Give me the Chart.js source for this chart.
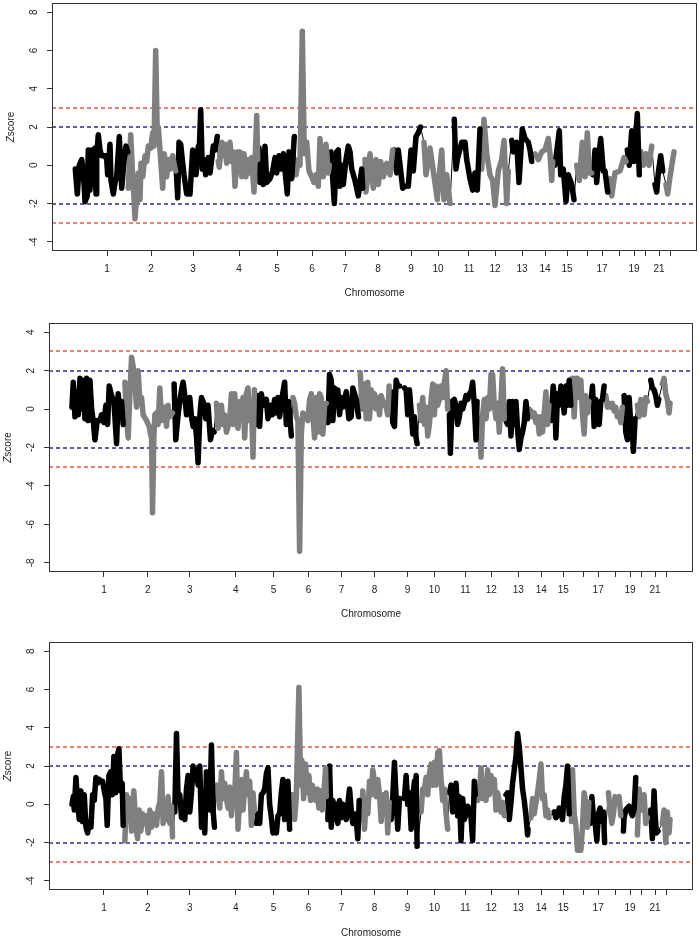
<!DOCTYPE html>
<html>
<head>
<meta charset="utf-8">
<script src="https://cdn.jsdelivr.net/npm/chart.js@4.4.1/dist/chart.umd.min.js"></script>
<style>
  body { margin: 0; background: #fff; }
  canvas { position: absolute; left: 0; }
</style>
</head>
<body>
<canvas id="zChart1" width="700" height="310" style="top:0px"></canvas>
<canvas id="zChart2" width="700" height="320" style="top:310px"></canvas>
<canvas id="zChart3" width="700" height="310" style="top:630px"></canvas>
<script>
// genome laid out as window index 0..600, chromosomes 1..22
var chromStarts = [0, 53, 101, 143, 183, 220, 255, 288, 318, 346, 377, 406, 434, 457, 478, 500, 518, 534, 552, 565, 577, 588, 600];
var chromTicks = [32, 76, 118, 164, 202, 237, 270, 303, 336, 363, 394, 420, 447, 470, 492, 512, 527, 544, 559, 570, 584, 595];
var chromLabels = ["1", "2", "3", "4", "5", "6", "7", "8", "9", "10", "11", "12", "13", "14", "15", "", "17", "", "19", "", "21", ""];
var cutoffs = [3, 2, -2, -3];
var yTicksUp = [-4, -2, 0, 2, 4, 6, 8];
var yTicksDown = [-8, -6, -4, -2, 0, 2, 4];

// [window, z-score]; null = gap in the thick trace
var traceA = [
  [0.3,-0.2],[2.3,-1.5],[4.3,0.0],[6.7,0.3],[8.3,-0.3],[10,-1.9],[12.3,-1.6],[13.3,0.8],[15,-1.3],[16.7,0.8],[18.3,-1.0],[20,0.9],[21,-1.5],[21.7,0.5],[23.3,1.6],[25,0.8],[26.7,0.5],[30,0.5],[31.7,0.3],[32.7,-0.5],[35,1.1],[36,-0.8],[38.3,-1.5],[40,-0.9],[41.7,-0.6],[44.3,1.5],[46.7,-1.2],[49,0.2],[51,1.0],[52.7,0.7],
  [53.3,-1.2],[55.7,1.6],[57.3,-0.2],[58.3,-1.0],[60,-2.8],[61.7,-1.5],[63.3,-0.4],[65,-1.8],[66,0.1],[67.7,-0.6],[70,0.5],[71.7,0.2],[73.3,1.0],[75.7,0.9],[77.7,1.7],[79,1.0],[80.7,6.0],[82.3,1.5],[83.3,2.0],[85,0.8],[87.7,-1.2],[89.3,0.6],[91.7,-0.6],[93.3,0.3],[95,-0.2],[97.7,0.5],[99.3,0.0],[100.7,-0.3],
  [101,0.0],[102.7,-1.7],[104,1.2],[105.7,1.1],[107.3,0.3],[109,-0.5],[111.7,-1.5],[115,-1.5],[117.7,0.8],[119,0.2],[121,-0.5],[123.3,1.0],[124.3,0.8],[125.7,2.9],[127.3,-0.2],[129,0.3],[130.7,-0.5],[133.3,0.4],[135,-0.4],[136.7,0.3],[138.3,1.0],[140,0.8],[142.3,1.5],
  [143.3,0.2],[144.3,-0.1],[146.7,1.2],[148.3,0.5],[150,1.1],[151.7,0.1],[155,1.2],[156.7,0.2],[158.3,0.7],[160,-1.1],[162.3,0.7],[163.3,-0.2],[165,0.7],[166.7,-0.6],[169,0.6],[171,-0.6],[173.3,0.3],[175,-0.4],[176.7,0.4],[179,-1.4],[181.7,2.6],[182.7,0.3],
  [184,0.9],[185,-0.9],[187.3,0.7],[188.3,-1.0],[190,1.0],[191.7,-0.9],[195,-0.7],[197.7,-0.3],[200,0.4],[201.7,-0.4],[204,0.5],[206,-0.2],[208.3,0.6],[212.3,-1.5],[214,0.7],[216.7,-0.7],[219.3,1.5],
  [221,-0.5],[223.3,0.3],[225,0.0],[227.3,7.0],[229.3,0.6],[231.7,1.2],[234,-0.3],[236.7,-0.6],[239,-0.9],[241,-0.5],[243.3,-1.1],[245,1.4],[246.7,0.0],[248.3,-0.6],[251,1.1],[253.3,-0.4],[254.3,0.0],
  [256,0.7],[259.3,-2.0],[261.7,0.7],[263.3,0.8],[265,-1.1],[266.7,0.0],[268.3,-1.0],[271,0.3],[273.3,1.0],[275,0.7],[276.7,-0.2],[280,-0.8],[283.3,-1.6],[286.7,-0.2],[287.7,-1.2],
  [290,0.3],[291,-1.4],[295,0.6],[298.3,-1.2],[301,0.3],[303.3,-1.0],[305.7,0.2],[308.3,-0.6],[311.7,0.1],[315,-0.5],[317.7,0.8],
  [319.3,0.8],[321.7,-0.4],[323.3,0.8],[327.7,-1.2],[330,-1.1],[331.5,null],[333.3,-1.1],[336,0.8],[338.3,-0.3],[341,1.5],[343.3,1.7],[345.5,2.0],
  [349,1.2],[351,-0.5],[355,0.9],[358.3,-0.3],[362.3,-1.8],[364.3,-0.5],[366.7,0.8],[369,-1.8],[371.7,-0.5],[375,-2.0],
  [379.3,2.4],[381,-0.2],[382.3,0.3],[386.7,1.2],[390,1.2],[391.7,0.3],[395,-0.7],[397.7,-1.3],[400,-0.4],[402.3,-1.3],[405,1.9],
  [406.7,-0.2],[409,2.4],[411.7,0.6],[415,-0.5],[417.7,-0.8],[420,-2.1],[423.3,-0.3],[426.7,0.3],[429,1.3],[431.7,-2.0],[433.3,-0.3],
  [436.7,1.3],[438.3,0.7],[441.7,1.2],[444,-0.9],[447.3,1.9],[450,1.4],[453.3,1.2],[455,0.8],[456.7,0.2],
  [460,0.6],[463.3,0.3],[466.7,0.7],[470,0.8],[473.3,1.4],[475,0.6],[476.7,-0.8],[477.7,0.2],
  [480,0.0],[484.3,1.8],[485.7,-0.5],[488.3,-0.2],[491,-1.9],[493.3,-0.5],[496.7,-1.0],[499,-1.8],
  [501.7,0.0],[504.3,-0.8],[507.3,1.2],[510,-0.6],[512.3,1.7],[514.3,-0.4],[516.7,-0.4],
  [518.3,-0.5],[520,0.8],[521.7,-0.9],[523.3,0.2],[525.7,1.4],[528.3,-0.3],[530,-0.3],[532.7,-1.4],
  [535,-0.7],[536.7,-1.6],[540,-0.4],[545,-0.3],[549,0.4],[551,0.2],
  [552.3,0.8],[554.3,0.0],[556.7,1.8],[559,0.2],[562.3,2.7],[564.3,-0.5],
  [566,0.7],[568.3,0.0],[571,0.6],[574,0.0],[576.7,1.0],
  [580,-1.0],[581.7,-1.4],[583.3,-0.4],[585.7,0.5],[587.7,-0.3],
  [591,-1.0],[592.7,-1.5],[595,-0.6],[599,0.7]
];

var traceB = [
  [0,0.1],[1.3,1.4],[3,-0.4],[4.7,0.9],[6.3,-0.3],[8,1.6],[9.7,0.0],[11.3,1.5],[13,-0.5],[14.7,1.6],[16.3,-0.6],[18,1.5],[19.7,0.0],[21.3,-0.6],[23,-1.6],[25.3,-0.6],[28,-0.6],[29.7,-0.3],[32,-0.7],[34,0.2],[35.7,-0.8],[37.3,1.2],[39.7,0.7],[42,0.4],[44.7,-1.8],[46.3,0.8],[48,-0.3],[49.7,0.4],[51.3,-0.8],
  [53,1.4],[54.7,-0.5],[56.3,-1.5],[58,0.8],[59.7,2.7],[61.3,2.2],[63,1.3],[64.7,0.1],[66.3,2.0],[68,0.3],[69.7,0.6],[71.3,-0.3],[74.7,-0.6],[77.3,-0.9],[78.7,-1.3],[79.7,-1.5],[80.7,-5.4],[82,-1.5],[83,-0.3],[84.7,-0.2],[86.3,-0.8],[88,1.1],[89.7,-0.6],[91.3,-0.4],[93,0.1],[94.7,-0.9],[96.3,0.2],[98,-0.4],[100.7,-0.2],
  [102.3,1.3],[104,-1.6],[106.3,-0.3],[108,0.4],[109.7,1.0],[111.3,1.4],[113,0.7],[114.7,-0.3],[116.3,-0.1],[118,0.6],[119.7,-0.4],[121.3,-0.9],[123,-0.5],[124.7,-1.4],[126.3,-2.8],[128,-0.4],[129.7,0.6],[132,0.3],[134,-0.5],[136.3,0.2],[138.7,-1.6],[140.7,-1.1],[142.3,-1.2],
  [144.7,0.3],[146.3,-1.0],[148,-0.5],[149.7,0.2],[151.3,-0.8],[153,-0.3],[154.7,-1.2],[158,-0.6],[159.7,0.8],[161.3,-0.8],[163,0.8],[164.7,-0.7],[166.3,-1.0],[168,0.4],[169.7,-0.2],[171.3,0.6],[173,-1.5],[174.7,0.8],[176.3,1.1],[178,-0.6],[179.7,0.4],[181.3,-2.5],[182.7,1.0],
  [184.7,-0.8],[186.3,0.7],[188,-0.9],[189.7,0.8],[191.3,0.2],[194.7,0.5],[196.3,-0.5],[198.7,0.2],[200.7,-0.3],[203,0.5],[204.7,-0.2],[206.3,0.6],[208,-0.4],[210.7,0.7],[213,1.4],[214.7,-0.8],[217,0.4],[219.7,-1.4],
  [221.3,0.6],[223,0.3],[224.7,-0.4],[226.3,-0.6],[228,-7.4],[229.7,-1.3],[231.3,-0.2],[233,-0.4],[234.7,-0.3],[236.3,-0.6],[238,0.5],[239.7,0.8],[241.3,-0.4],[243,-1.5],[244.7,0.6],[246.3,-1.2],[248,0.8],[249.7,0.6],[251.3,-1.3],[253,0.2],[254.7,0.3],
  [256.3,-0.7],[258,1.8],[259.7,1.5],[261.3,-0.6],[263,1.1],[264.7,0.2],[266.3,1.0],[268,-0.3],[269.7,0.6],[271.3,0.1],[274.7,0.9],[277.3,-0.5],[279.7,-0.4],[281.3,1.1],[284.7,0.5],[287,-0.4],
  [288.7,1.9],[290.7,0.0],[293,1.3],[294.7,-0.5],[296.3,1.4],[298,-0.5],[299.7,1.0],[301.3,0.1],[303,0.8],[304.7,0.0],[306.3,0.6],[308,-0.3],[309.7,0.7],[311.3,0.4],[313,0.2],[314.7,0.1],[316.3,-0.3],[317.7,1.2],
  [319.7,0.9],[321.3,-0.7],[323,-0.9],[324.7,1.5],[326.3,1.2],[328,1.2],[330.5,null],[333,1.1],[334.7,1.0],[336.3,-0.3],[338,1.0],[339.7,-0.1],[341.3,-1.3],[343,-0.4],[344.7,-1.5],[345.7,-1.8],
  [348,0.2],[349.7,-0.6],[351.3,0.6],[353,-0.8],[354.7,0.1],[356.3,-1.4],[358,-0.8],[359.7,0.5],[361.3,1.3],[363,-0.3],[364.7,1.2],[366.3,0.2],[368,0.5],[369.7,1.2],[371.3,0.6],[373,1.4],[374.7,2.0],[376.3,0.0],
  [378,-0.3],[379,-2.3],[380.7,0.4],[383,0.5],[384.7,0.1],[386.3,-0.8],[388,-0.4],[389.7,0.3],[391.3,0.0],[393,0.3],[394.7,0.7],[396.3,0.5],[398,0.8],[399.7,0.9],[401.3,1.4],[403,0.2],[404.7,-1.6],[405.7,0.4],
  [408,-0.6],[409.7,-2.5],[411.3,-0.3],[413,0.5],[414.7,-0.5],[416.3,0.6],[418,0.0],[419.7,1.8],[421.3,1.8],[423,0.2],[424.7,-0.5],[426.3,0.3],[428,-1.2],[429.7,0.5],[431.3,2.1],[433,-0.5],
  [434.7,-0.6],[436.3,-0.8],[438,0.4],[439.7,-1.4],[441.3,0.4],[443,-0.8],[444.7,0.4],[446.3,-1.1],[448,-2.1],[449.7,-1.5],[451.3,-1.2],[453,-0.7],[454.7,0.4],[456.3,-0.5],
  [458,0.0],[459.7,-0.1],[461.3,-0.4],[463,-0.2],[464.7,-0.7],[466.3,-0.4],[468,-1.3],[469.7,-0.4],[471.3,-1.2],[473,-0.2],[474.7,0.9],[476.3,-0.8],[477.7,0.2],
  [479.7,-0.6],[482,1.2],[483.7,0.3],[484.7,-1.5],[486.3,0.8],[488,0.2],[489.7,1.2],[491.3,0.8],[493,-0.2],[494.7,1.2],[496.3,0.2],[498,1.5],[499.7,0.2],
  [501.3,1.6],[503,-0.4],[504.7,1.6],[506.3,1.6],[508,0.6],[509.7,1.5],[511.3,-0.3],[513,-1.3],[514.7,0.7],[516.3,-0.2],[517.7,0.4],
  [519.7,0.3],[521.3,1.2],[523,-0.9],[524.7,0.5],[526.3,-0.3],[528,-0.8],[529.7,0.4],[531.3,0.5],[533,1.2],
  [534.7,0.7],[536.3,0.1],[538,0.3],[539.7,0.1],[541.3,0.3],[543,-0.1],[544.7,0.1],[546.3,-0.4],[548,-0.2],[549.7,-0.7],[551.3,0.1],
  [553,0.7],[554.7,-1.2],[556.3,-1.6],[558,0.6],[559.7,-0.8],[561.3,-1.2],[562.3,-2.2],[564,-0.5],
  [566.3,0.2],[568,-0.4],[569.7,0.5],[571.3,0.4],[573,-0.3],[574.7,0.6],[576.3,0.4],
  [579.7,1.5],[581.3,1.1],[583,1.0],[584.7,0.7],[586.3,0.2],[587.7,0.5],
  [591.3,1.3],[593,1.6],[594.7,0.8],[596.3,0.5],[598,-0.2],[599,0.3]
];

var traceC = [
  [0,0.0],[1.3,0.4],[2.3,-0.3],[4,1.4],[5.7,0.0],[7.3,-0.8],[9,0.7],[10.7,-0.9],[12.3,0.5],[14,-1.2],[15.7,-1.5],[17.3,-0.9],[19,-1.2],[20.7,0.5],[22.3,0.2],[24,1.4],[25.7,1.1],[27.3,1.3],[29,1.2],[30.7,1.2],[32.3,0.7],[34,0.3],[35.3,-1.1],[37,1.5],[38.7,1.7],[40.3,0.5],[42,2.5],[43.7,0.6],[45.3,2.5],[47,2.9],[48.7,0.7],[50.3,1.1],[51.3,-1.1],
  [53,-1.9],[54.7,0.5],[56.3,-0.5],[58,0.3],[59.7,-1.4],[62,0.7],[63.7,-1.0],[65.7,-1.8],[67.3,-0.3],[69,-1.4],[70.7,-0.5],[72.3,-1.0],[74,-0.6],[76.3,-1.5],[78,-0.3],[79.7,-1.2],[81.3,-0.5],[83,-0.8],[84.7,-1.1],[86.3,-0.2],[88,0.1],[89.7,1.7],[91.3,-1.0],[93,-0.3],[94.7,-0.8],[96.3,0.4],[98,-1.0],[99.7,-0.1],[100.7,-1.7],
  [103,-0.4],[104.7,3.7],[106.3,0.3],[108,0.5],[109.7,-0.7],[111.3,-0.4],[113,-0.8],[114.7,0.8],[116.3,1.5],[118,-0.4],[119.7,0.6],[121.3,2.0],[123,1.5],[124.7,1.8],[126.3,1.0],[128,2.0],[129.7,-1.2],[131.3,-0.2],[133,-1.5],[134.7,1.7],[136.3,0.5],[138,-0.3],[139.7,3.1],[141.3,-0.3],[142.7,-1.2],
  [144.7,1.0],[146.3,0.5],[148,-0.2],[149.7,1.7],[151.3,0.3],[153,1.1],[154.7,0.3],[156.3,-0.2],[158,0.9],[159.7,-0.6],[161.3,0.6],[163,0.5],[164.7,2.7],[166.3,-1.3],[168,0.3],[169.7,1.3],[171.3,-0.3],[173,0.8],[174.7,1.7],[176.3,0.5],[178,1.2],[179.7,-1.1],[181.3,0.6],[182.7,-0.3],
  [184.7,-1.0],[186.3,-0.5],[188,-1.0],[189.7,0.5],[191.3,0.6],[193,0.8],[194.7,1.6],[196.3,1.9],[198,0.0],[199.7,-0.7],[201.3,-1.5],[203,-1.2],[204.7,-1.5],[206.3,-0.6],[208,-0.5],[209.7,0.6],[211.3,1.3],[213,-0.8],[214.7,0.3],[216.3,1.2],[218,-1.3],
  [220.3,0.5],[221.3,0.0],[223,-0.8],[224.7,0.4],[227.3,6.1],[229,1.0],[230.3,2.3],[232,0.3],[234,2.1],[235.7,0.6],[237.3,1.5],[239,0.2],[240.7,1.0],[242.3,0.4],[244,0.2],[245.7,0.8],[247.3,-0.2],[249,0.7],[250.7,-0.3],[252.3,0.5],[254,1.9],[254.7,0.4],
  [256.3,-0.8],[258,2.0],[259.7,-1.2],[261.3,0.2],[263,-0.8],[264.7,0.0],[266.3,-1.0],[268,0.2],[269.7,-0.7],[271.3,0.0],[274.7,-0.8],[277.3,0.5],[278,0.8],[280,-0.5],[281.3,-1.0],[283,-0.5],[284.7,-0.8],[286.3,-1.8],[287.7,0.2],
  [289.7,-0.8],[291.3,0.7],[293,-1.3],[294.7,0.3],[296.3,-0.5],[298,1.2],[299.7,0.5],[301.3,1.8],[303,1.2],[304.7,0.4],[306.3,1.3],[308,0.5],[309.7,-0.9],[311.3,0.5],[313,-0.2],[314.7,0.6],[316.3,-1.5],[317.7,0.1],
  [319.7,-0.8],[321.3,0.4],[323,2.2],[324.7,0.3],[326.3,-1.3],[328,0.3],[330.5,null],[333,0.3],[334.7,1.5],[336.3,0.0],[338,0.6],[339.7,-1.3],[341.3,0.3],[343,1.2],[344,0.9],[344.7,1.5],[345.7,-2.2],
  [349.7,-0.4],[351.3,0.8],[353,0.8],[354.7,1.4],[356.3,0.5],[358,1.6],[359.7,2.1],[361.3,1.0],[363,2.2],[364.7,1.0],[366.3,2.7],[368,2.8],[369.7,1.3],[371.3,0.2],[373,0.8],[374.7,-0.5],[376.3,-1.3],
  [378,0.6],[379.7,1.0],[381.3,-0.4],[383,0.2],[384.7,1.1],[386.3,-0.6],[388,0.4],[389.7,-1.9],[391.3,0.3],[393,-0.8],[394.7,-0.5],[396.3,-0.1],[398,-0.3],[399.7,-0.7],[401.3,-1.9],[403,1.2],[404,0.5],
  [406.3,0.2],[408,0.6],[409.7,1.9],[411.3,0.3],[413,1.2],[414.7,0.2],[416.3,1.8],[418,0.5],[419.7,1.5],[421.3,0.8],[423,1.3],[424.7,-0.3],[426.3,0.6],[428,0.1],[429.7,-0.4],[431.3,0.1],[433,-0.6],
  [434.7,0.5],[436.3,0.6],[438,-0.8],[439.7,0.1],[441.3,1.1],[443,1.8],[444.7,2.5],[446.3,3.7],[448,3.0],[449.7,1.9],[451.3,0.8],[453,0.2],[454.7,-0.6],[456.3,-1.6],[456.8,-1.3],
  [459.7,-0.7],[461.3,0.3],[463,-0.5],[464.7,0.1],[466.3,0.6],[468,1.3],[469.7,2.1],[471.3,0.3],[473,0.5],[474.7,-0.6],[476.3,-0.3],[477.7,-0.7],
  [483,-0.4],[484.7,-0.7],[486.3,-0.6],[488,-0.2],[489.7,-0.3],[491.3,-0.8],[493,0.4],[494.7,1.0],[496.3,2.0],[498,-0.5],
  [500.3,-0.9],[501.3,1.8],[503,-0.5],[504.7,-1.1],[506.3,-2.4],[508,-2.4],[509.7,-2.4],[511.3,-1.2],[513,0.6],[514.7,0.0],[516.3,-1.2],[517.7,0.1],
  [519,-1.0],[520.7,0.4],[522.3,-0.7],[524,-1.0],[525.7,-1.9],[527.3,-0.5],[529,-0.2],[530.7,-0.9],[532.3,-0.4],[533.5,-2.0],
  [537.3,0.6],[539,-0.3],[540.7,-1.0],[542.3,-0.5],[544,0.4],[546.3,0.2],[548,0.4],[549.7,-0.6],
  [552.3,-1.4],[553,-0.7],[554.7,-0.3],[556.3,-0.2],[558,-0.1],[559.7,-0.4],[561.3,-0.6],[563,-0.3],
  [564.7,1.4],[566.3,-1.6],[568,0.8],[569.7,-0.3],[571.3,-0.3],[573,0.5],[574.7,-1.0],[576.3,-0.7],
  [579.7,-0.3],[581.3,-1.8],[583,0.7],[584,-0.5],[585.3,-1.5],[587,-1.4],
  [591.3,-1.0],[593,-0.3],[594.7,-2.0],[596.3,-0.4],[598,-1.5],[599,-0.8]
];

Chart.defaults.font.family = '"Liberation Sans", Arial, Helvetica, sans-serif';
Chart.defaults.font.size = 10;
Chart.defaults.color = "#222";

function toPoints(list) {
  return list.map(function (p) { return { x: p[0], y: p[1] }; });
}

// box, cut-off lines, rotated y labels and the y title, R style
var rFrame = {
  id: "rFrame",
  beforeDatasetsDraw: function (chart) {
    var ctx = chart.ctx, a = chart.chartArea, ys = chart.scales.y;
    ctx.save();
    ctx.lineWidth = 1.4;
    ctx.setLineDash([4, 3]);
    cutoffs.forEach(function (c) {
      var py = Math.round(ys.getPixelForValue(c));
      ctx.strokeStyle = Math.abs(c) === 3 ? "#e3574a" : "#2b2b8f";
      ctx.beginPath();
      ctx.moveTo(a.left, py);
      ctx.lineTo(a.right, py);
      ctx.stroke();
    });
    ctx.restore();
  },
  afterDraw: function (chart) {
    var ctx = chart.ctx, a = chart.chartArea, ys = chart.scales.y;
    ctx.save();
    ctx.strokeStyle = "#333";
    ctx.lineWidth = 1;
    ctx.strokeRect(Math.round(a.left) + 0.5, Math.round(a.top) + 0.5,
      Math.round(a.right - a.left) - 1, Math.round(a.bottom - a.top) - 1);
    ctx.fillStyle = "#222";
    ctx.font = '10px "Liberation Sans", Arial, sans-serif';
    ctx.textAlign = "center";
    ctx.textBaseline = "middle";
    ys.ticks.forEach(function (t) {
      ctx.save();
      ctx.translate(a.left - 18, ys.getPixelForValue(t.value));
      ctx.rotate(-Math.PI / 2);
      ctx.fillText(String(t.value), 0, 0);
      ctx.restore();
    });
    // y title: italic Z + "score"
    ctx.translate(a.left - 41, (a.top + a.bottom) / 2);
    ctx.rotate(-Math.PI / 2);
    ctx.textAlign = "left";
    ctx.font = 'italic 10px "Liberation Sans", Arial, sans-serif';
    var wz = ctx.measureText("Z").width;
    ctx.font = '10px "Liberation Sans", Arial, sans-serif';
    var ws = ctx.measureText("score").width;
    var x0 = -(wz + ws) / 2;
    ctx.font = 'italic 10px "Liberation Sans", Arial, sans-serif';
    ctx.fillText("Z", x0, 0);
    ctx.font = '10px "Liberation Sans", Arial, sans-serif';
    ctx.fillText("score", x0 + wz, 0);
    ctx.restore();
  }
};

function makePanel(id, trace, yTicks, frame) {
  var datasets = [{
    data: toPoints(trace),
    borderColor: "#000",
    borderWidth: 1,
    spanGaps: true,
    pointRadius: 0,
    order: 2
  }];
  for (var c = 0; c < 22; c++) {
    var part = trace.filter(function (p) {
      return p[0] >= chromStarts[c] && p[0] < chromStarts[c + 1];
    });
    datasets.push({
      data: toPoints(part),
      borderColor: c % 2 === 0 ? "#000" : "#7f7f7f",
      borderWidth: 5.5,
      borderJoinStyle: "round",
      borderCapStyle: "round",
      pointRadius: 0,
      spanGaps: false,
      order: 1
    });
  }

  return new Chart(document.getElementById(id).getContext("2d"), {
    type: "line",
    data: { datasets: datasets },
    plugins: [rFrame],
    options: {
      responsive: false,
      animation: false,
      devicePixelRatio: 1,
      layout: { padding: { top: frame.top, right: 700 - frame.right, left: 0, bottom: 0 } },
      plugins: { legend: { display: false }, tooltip: { enabled: false } },
      scales: {
        x: {
          type: "linear",
          min: -23,
          max: 622,
          afterBuildTicks: function (s) {
            s.ticks = chromTicks.map(function (v) { return { value: v }; });
          },
          afterFit: function (s) { s.height = frame.xHeight; },
          ticks: {
            autoSkip: false,
            maxRotation: 0,
            minRotation: 0,
            padding: 7,
            callback: function (v, i) { return chromLabels[i]; }
          },
          grid: { drawOnChartArea: false, drawTicks: true, tickLength: 5, color: "#333" },
          border: { display: false },
          title: { display: true, text: "Chromosome", padding: { top: 0, bottom: frame.titlePad } }
        },
        y: {
          type: "linear",
          min: yTicks[0] - 0.48,
          max: yTicks[yTicks.length - 1] + 0.48,
          afterBuildTicks: function (s) {
            s.ticks = yTicks.map(function (v) { return { value: v }; });
          },
          afterFit: function (s) { s.width = frame.left; },
          ticks: { display: false },
          grid: { drawOnChartArea: false, drawTicks: true, tickLength: 5, color: "#333" },
          border: { display: false }
        }
      }
    }
  });
}

makePanel("zChart1", traceA, yTicksUp, { top: 3, left: 52, right: 697, xHeight: 59, titlePad: 11 });
makePanel("zChart2", traceB, yTicksDown, { top: 13, left: 49, right: 693, xHeight: 58, titlePad: 10 });
makePanel("zChart3", traceC, yTicksUp, { top: 12, left: 49, right: 693, xHeight: 50, titlePad: 1 });
</script>
</body>
</html>
